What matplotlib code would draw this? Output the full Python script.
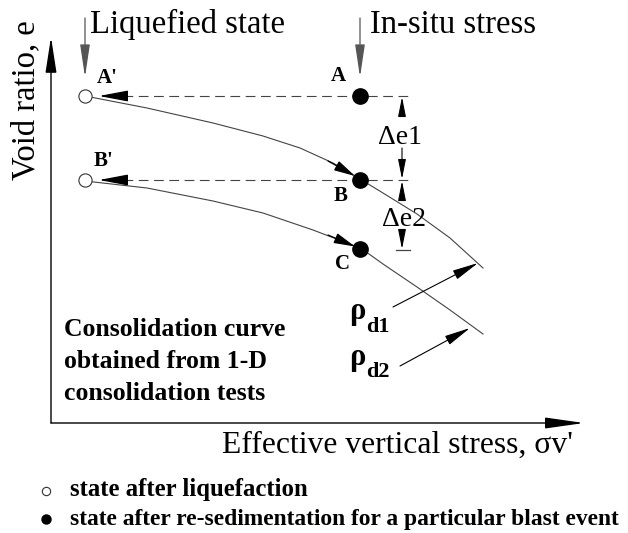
import matplotlib
matplotlib.use("Agg")
import matplotlib.pyplot as plt

plt.rcParams['font.family'] = ['Liberation Serif', 'DejaVu Serif']
plt.rcParams['lines.scale_dashes'] = False

# ---- schematic data (canvas units: x = stress axis, y = void-ratio axis, downward) ----
stress_liquefied = 85
stress_insitu = 360
e_A = 96          # A and A'
e_B = 180         # B and B'
e_C = 249         # C
dim_x = 402       # x of the Δe dimension lines

curve1_x = [85, 147, 213, 263, 300, 333, 360, 383, 417, 450, 483]
curve1_y = [96, 108, 123, 136, 148, 163, 179, 193, 214, 238, 268]
curve2_x = [85, 147, 213, 263, 313, 347, 362, 383, 417, 450, 483]
curve2_y = [181, 188, 201, 213, 230, 243, 249, 264, 287, 310, 334]

point_labels = ["A'", "B'", "A", "B", "C"]
label_x = [107, 104, 338, 341, 342]
label_y = [78, 161, 76, 196, 264]

legend_labels = ["state after liquefaction",
                 "state after re-sedimentation for a particular blast event"]
note_lines = ["Consolidation curve", "obtained from 1-D", "consolidation tests"]

fig = plt.figure(figsize=(6.28, 5.33), dpi=100)
ax = fig.add_axes([0, 0, 1, 1])
ax.set_xlim(0, 628)
ax.set_ylim(533, 0)
ax.axis('off')

def arrow(x0, y0, x1, y1, color='black', lw=0.9, hl=0.65, hw=0.16, ms=20):
    ax.annotate('', xy=(x1, y1), xytext=(x0, y0),
                arrowprops=dict(arrowstyle=f'-|>,head_length={hl},head_width={hw}',
                                color=color, lw=lw, shrinkA=0, shrinkB=0,
                                mutation_scale=ms))

# axes
arrow(51, 423, 51, 37, lw=1.0, hl=1.1, hw=0.17)
arrow(51, 423, 584, 423, lw=1.0, hl=1.2, hw=0.17)
ax.text(26, 100, "Void ratio, e", rotation=90, ha='center', va='center', fontsize=23.5)
ax.text(398, 453, "Effective vertical stress, σv'", ha='center', va='baseline', fontsize=22.8)

# top labels + arrows
ax.text(90, 33, "Liquefied state", ha='left', va='baseline', fontsize=23.5)
ax.text(370, 33, "In-situ stress", ha='left', va='baseline', fontsize=23.5)
arrow(stress_liquefied, 18, stress_liquefied, 77, color='#555555', lw=0.9, hl=1.0, hw=0.15)
arrow(stress_insitu, 18, stress_insitu, 77, color='#555555', lw=0.9, hl=1.0, hw=0.15)

# consolidation curves
ax.plot(curve1_x, curve1_y, color='#444444', lw=0.8)
ax.plot(curve2_x, curve2_y, color='#444444', lw=0.8)
arrow(328, 161, 355, 176, lw=0.9)
arrow(328, 235, 355, 246.5, lw=0.9)

# dashed horizontal lines
for ey in (e_A, e_B):
    ax.plot([stress_liquefied + 38, dim_x + 8], [ey, ey], color='#444444', lw=0.8,
            dashes=(7, 4))
    arrow(stress_liquefied + 41, ey, stress_liquefied + 14, ey, lw=0.9, hl=0.9, hw=0.17)

# dimension Δe1 and Δe2
arrow(dim_x, 112, dim_x, 97, lw=0.8, hl=0.6, hw=0.12)
arrow(dim_x, 148, dim_x, 179, lw=0.8, hl=0.6, hw=0.12)
arrow(dim_x, 196, dim_x, 181, lw=0.8, hl=0.6, hw=0.12)
arrow(dim_x, 232, dim_x, 249, lw=0.8, hl=0.6, hw=0.12)
ax.plot([dim_x - 6, dim_x + 8], [e_C + 1, e_C + 1], color='#444444', lw=0.9)
ax.text(400, 137, "Δe1", ha='center', va='center', fontsize=20)
ax.text(404, 219, "Δe2", ha='center', va='center', fontsize=20)

# states
ax.plot([stress_liquefied] * 2, [e_A, e_B], 'o', ms=9.5, mfc='white', mec='#333333', mew=0.8)
ax.plot([stress_insitu] * 3, [e_A, e_B, e_C], 'o', ms=11, color='black')
for t, x, y in zip(point_labels, label_x, label_y):
    ax.text(x, y, t, ha='center', va='center', fontsize=15, fontweight='bold')

# density labels
ax.text(357, 311, "ρ", ha='center', va='center', fontsize=22, fontweight='bold')
ax.text(378, 327, "d1", ha='center', va='center', fontsize=16, fontweight='bold')
ax.text(357, 357, "ρ", ha='center', va='center', fontsize=22, fontweight='bold')
ax.text(378, 372, "d2", ha='center', va='center', fontsize=16, fontweight='bold')
arrow(393, 307, 478, 263, lw=0.8, hl=0.8, hw=0.15)
arrow(400, 366, 470, 328, lw=0.8, hl=0.8, hw=0.15)

# note
for i, line in enumerate(note_lines):
    ax.text(64, 329 + 32 * i, line, ha='left', va='center', fontsize=18.5, fontweight='bold')

# legend
ax.plot([46], [491], 'o', ms=6, mfc='white', mec='#333333', mew=0.8)
ax.plot([46], [519], 'o', ms=6.5, color='black')
ax.text(70, 496, legend_labels[0], ha='left', va='baseline', fontsize=17.8, fontweight='bold')
ax.text(70, 525, legend_labels[1], ha='left', va='baseline', fontsize=16.9, fontweight='bold')

fig.savefig("out.png", dpi=100)
